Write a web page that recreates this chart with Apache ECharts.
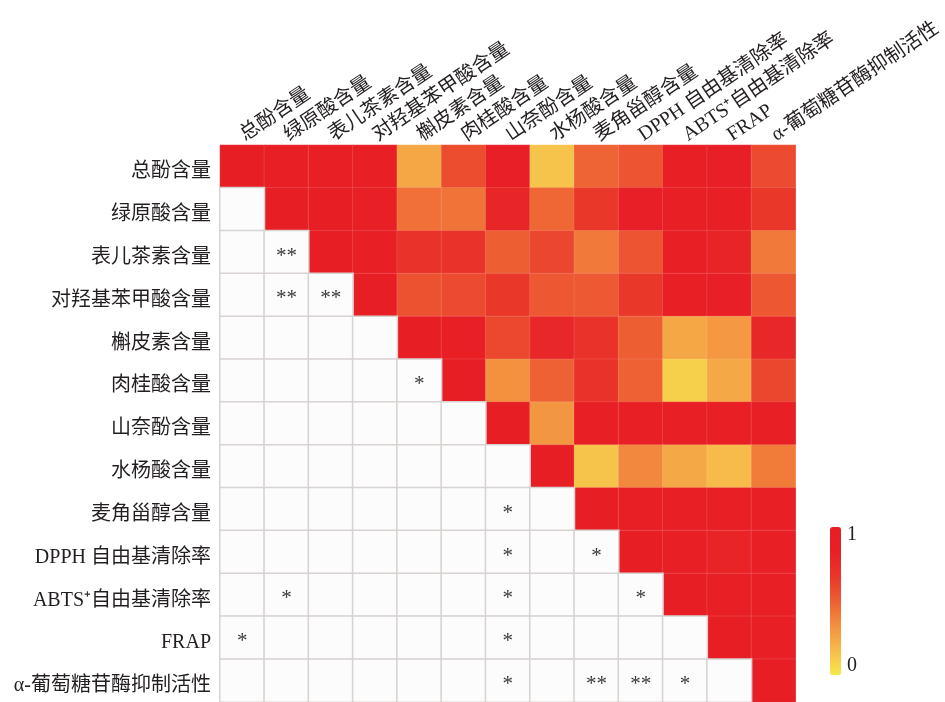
<!DOCTYPE html>
<html>
<head>
<meta charset="utf-8">
<script src="https://cdn.jsdelivr.net/npm/echarts@6/dist/echarts.min.js"></script>
<style>
  html, body { margin: 0; padding: 0; background: #ffffff; }
  #chart { width: 945px; height: 702px; }
</style>
</head>
<body>
<div id="chart"></div>
<script>
// Indicator names, shared by both axes
const categories = [
  '总酚含量', '绿原酸含量', '表儿茶素含量', '对羟基苯甲酸含量', '槲皮素含量',
  '肉桂酸含量', '山奈酚含量', '水杨酸含量', '麦角甾醇含量', 'DPPH 自由基清除率',
  'ABTS⁺自由基清除率', 'FRAP', 'α-葡萄糖苷酶抑制活性'
];

// Correlation coefficients, upper triangle: row i lists columns i..12
const corrRow0  = [1, 0.95, 0.94, 0.93, 0.25, 0.57, 0.90, 0.14, 0.48, 0.54, 0.92, 0.91, 0.58];
const corrRow1  = [1, 0.96, 0.95, 0.44, 0.43, 0.79, 0.47, 0.66, 0.90, 0.93, 0.92, 0.66];
const corrRow2  = [1, 0.95, 0.70, 0.70, 0.50, 0.60, 0.41, 0.54, 0.92, 0.80, 0.41];
const corrRow3  = [1, 0.55, 0.58, 0.66, 0.53, 0.52, 0.66, 0.92, 0.91, 0.53];
const corrRow4  = [1, 0.95, 0.59, 0.77, 0.70, 0.50, 0.25, 0.30, 0.77];
const corrRow5  = [1, 0.33, 0.49, 0.70, 0.49, 0.09, 0.24, 0.60];
const corrRow6  = [1, 0.31, 0.95, 0.94, 0.93, 0.92, 0.93];
const corrRow7  = [1, 0.14, 0.36, 0.24, 0.17, 0.40];
const corrRow8  = [1, 0.95, 0.94, 0.93, 0.92];
const corrRow9  = [1, 0.93, 0.80, 0.92];
const corrRow10 = [1, 0.94, 0.93];
const corrRow11 = [1, 0.95];
const corrRow12 = [1];
const corrRows = [corrRow0, corrRow1, corrRow2, corrRow3, corrRow4, corrRow5, corrRow6,
                  corrRow7, corrRow8, corrRow9, corrRow10, corrRow11, corrRow12];

// Significance marks in the lower triangle: [row, column, mark]
const significance = [
  [2, 1, '**'],
  [3, 1, '**'], [3, 2, '**'],
  [5, 4, '*'],
  [8, 6, '*'],
  [9, 6, '*'], [9, 8, '*'],
  [10, 1, '*'], [10, 6, '*'], [10, 9, '*'],
  [11, 0, '*'], [11, 6, '*'],
  [12, 6, '*'], [12, 8, '**'], [12, 9, '**'], [12, 10, '*']
];

// Colour bar end labels
const scaleLabels = ['1', '0'];

const n = categories.length;
const upperData = [];
corrRows.forEach(function (row, i) {
  row.forEach(function (v, k) { upperData.push([i + k, i, v]); });
});

const markOf = {};
significance.forEach(function (s) { markOf[s[0] + '_' + s[1]] = s[2]; });
const lowerData = [];
for (let i = 1; i < n; i++) {
  for (let j = 0; j < i; j++) {
    lowerData.push({ value: [j, i, 0], mark: markOf[i + '_' + j] || '' });
  }
}

const labelFont = '"Liberation Serif", "Noto Sans CJK SC", serif';
const textColor = '#231f20';

const chart = echarts.init(document.getElementById('chart'), null, { renderer: 'canvas' });
chart.setOption({
  backgroundColor: '#ffffff',
  animation: false,
  grid: { left: 220, right: 148, top: 145, bottom: 0 },
  xAxis: {
    type: 'category',
    position: 'top',
    data: categories,
    axisLine: { show: false },
    axisTick: { show: false },
    splitArea: { show: false },
    axisLabel: {
      interval: 0, rotate: -34, margin: 8,
      fontSize: 20, fontFamily: labelFont, color: textColor
    }
  },
  yAxis: {
    type: 'category',
    inverse: true,
    data: categories,
    axisLine: { show: false },
    axisTick: { show: false },
    splitArea: { show: false },
    axisLabel: {
      interval: 0, margin: 9,
      formatter: function (v) { return '{name|' + v + '}'; },
      rich: {
        name: {
          fontSize: 20, fontFamily: labelFont, color: textColor,
          padding: [11, 0, 0, 0]
        }
      }
    }
  },
  visualMap: {
    type: 'continuous',
    seriesIndex: 0,
    min: 0, max: 1,
    calculable: false,
    hoverLink: false,
    orient: 'vertical',
    left: 815, top: 512,
    itemWidth: 11, itemHeight: 148,
    inRange: {
      color: ['#f8e84a', '#f6bc4b', '#f3903f', '#ee5e33', '#e9362a', '#e82026', '#e81e25']
    }
  },
  graphic: [
    { type: 'text', left: 847, top: 525, z: 100, style: { text: scaleLabels[0], font: '20px ' + labelFont, fill: textColor } },
    { type: 'text', left: 847, top: 656, z: 100, style: { text: scaleLabels[1], font: '20px ' + labelFont, fill: textColor } }
  ],
  series: [
    {
      name: 'corr',
      type: 'heatmap',
      data: upperData,
      itemStyle: { borderColor: 'rgba(255,255,255,0.12)', borderWidth: 1 },
      emphasis: { disabled: true },
      label: { show: false }
    },
    {
      name: 'sig',
      type: 'heatmap',
      data: lowerData,
      itemStyle: { color: '#fcfcfc', borderColor: '#d8d2d1', borderWidth: 1.5 },
      emphasis: { disabled: true },
      label: {
        show: true,
        formatter: function (p) { return p.data.mark; },
        offset: [0, 4],
        fontSize: 21, fontFamily: labelFont, color: '#3a3a3a'
      }
    }
  ]
});
</script>
</body>
</html>
